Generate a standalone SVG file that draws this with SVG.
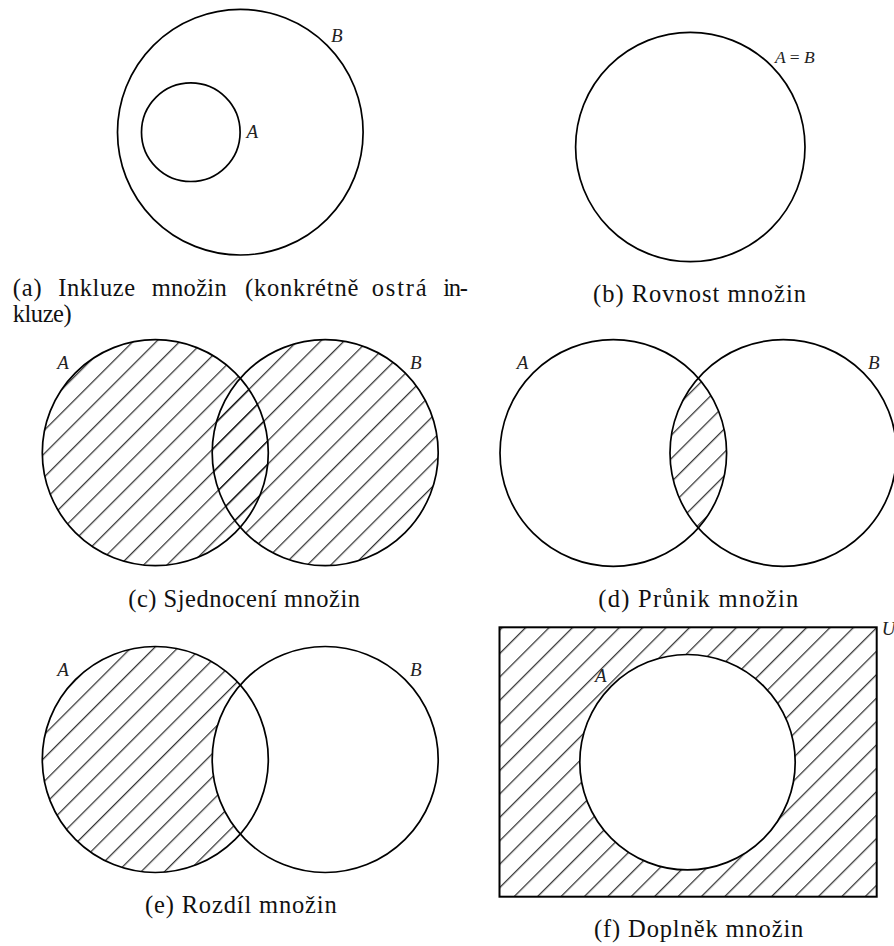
<svg xmlns="http://www.w3.org/2000/svg" width="894" height="946" viewBox="0 0 894 946">
<style>
.set{fill:none;stroke:#000;stroke-width:1.7}
.wh{fill:#fff;stroke:none}
.hf{fill:url(#hatch);stroke:none}
.lbl{font-family:'Liberation Serif',serif;font-style:italic;font-size:19px;fill:#222}
.cap{font-family:'Liberation Serif',serif;font-size:24.5px;fill:#111}
</style>
<defs>
<pattern id="hatch" patternUnits="userSpaceOnUse" width="16.55" height="16.55" patternTransform="rotate(45)">
<line x1="4.6" y1="-1" x2="4.6" y2="17.6" stroke="#000" stroke-width="1"/>
</pattern>
<clipPath id="clipDA"><circle cx="613.3" cy="453" r="113.3"/></clipPath>
</defs>

<g id="fig-a">
<circle class="set" cx="240.3" cy="132.2" r="122.8"/>
<circle class="set" cx="190.8" cy="132.2" r="49.3"/>
<text class="lbl" x="331" y="42.3">B</text>
<text class="lbl" x="246.5" y="137.7">A</text>
<text class="cap" y="295.5"><tspan x="12.7" textLength="29">(a)</tspan><tspan x="58.3" textLength="76.7">Inkluze</tspan><tspan x="151.7" textLength="75">množin</tspan><tspan x="245" textLength="113.3">(konkrétně</tspan><tspan x="371.7" textLength="55">ostrá</tspan><tspan x="443.3" textLength="24.7">in-</tspan></text>
<text class="cap" x="12.7" y="322" textLength="59">kluze)</text>
</g>

<g id="fig-b">
<circle class="set" cx="690.3" cy="147" r="114.7"/>
<text class="lbl" x="775" y="63.3" style="font-size:17.5px">A <tspan style="font-style:normal">=</tspan> B</text>
<text class="cap" x="593" y="301.5" textLength="213">(b) Rovnost množin</text>
</g>

<g id="fig-c">
<circle class="hf" cx="155.3" cy="452.7" r="113"/>
<circle class="hf" cx="325.2" cy="452.7" r="113"/>
<circle class="set" cx="155.3" cy="452.7" r="113"/>
<circle class="set" cx="325.2" cy="452.7" r="113"/>
<text class="lbl" x="57.3" y="369">A</text>
<text class="lbl" x="410" y="369">B</text>
<text class="cap" x="128.3" y="606.5" textLength="231.7">(c) Sjednocení množin</text>
</g>

<g id="fig-d">
<circle class="hf" cx="783.3" cy="453" r="113.3" clip-path="url(#clipDA)"/>
<circle class="set" cx="613.3" cy="453" r="113.3"/>
<circle class="set" cx="783.3" cy="453" r="113.3"/>
<text class="lbl" x="516.7" y="369">A</text>
<text class="lbl" x="868" y="369">B</text>
<text class="cap" x="598.3" y="607.3" textLength="200">(d) Průnik množin</text>
</g>

<g id="fig-e">
<circle class="hf" cx="155.3" cy="759.5" r="113"/>
<circle class="wh" cx="325.2" cy="759.5" r="113"/>
<circle class="set" cx="155.3" cy="759.5" r="113"/>
<circle class="set" cx="325.2" cy="759.5" r="113"/>
<text class="lbl" x="57.3" y="676">A</text>
<text class="lbl" x="410" y="676">B</text>
<text class="cap" x="145" y="913.3" textLength="191.7">(e) Rozdíl množin</text>
</g>

<g id="fig-f">
<rect class="hf" x="499.5" y="627.3" width="377.2" height="269.4"/>
<circle class="wh" cx="687.5" cy="762.2" r="107.7"/>
<rect class="set" x="499.5" y="627.3" width="377.2" height="269.4" style="stroke-width:2"/>
<circle class="set" cx="687.5" cy="762.2" r="107.7"/>
<text class="lbl" x="595" y="682.3">A</text>
<text class="lbl" x="881.7" y="635">U</text>
<text class="cap" x="594" y="936.7" textLength="209.3">(f) Doplněk množin</text>
</g>
</svg>
